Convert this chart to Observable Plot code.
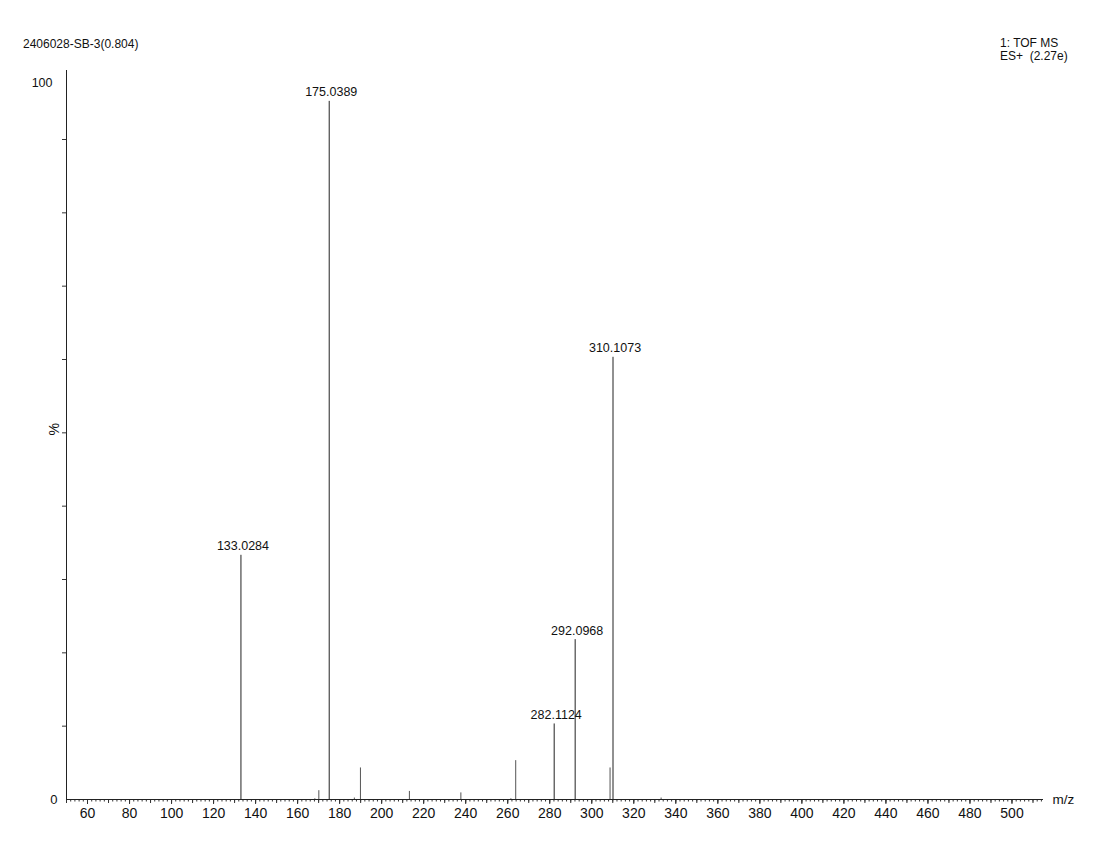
<!DOCTYPE html>
<html>
<head>
<meta charset="utf-8">
<script src="https://cdn.jsdelivr.net/npm/d3@7"></script>
<script src="https://cdn.jsdelivr.net/npm/@observablehq/plot@0.6"></script>
<style>
  body { margin: 0; background: #fff; font-family: "Liberation Sans", Arial, sans-serif; }
  #wrap { position: relative; width: 1114px; height: 855px; }
  .hdr { position: absolute; font-size: 12px; color: #111; line-height: 13px; white-space: nowrap; }
</style>
</head>
<body>
<div id="wrap">
  <div class="hdr" style="left:23px; top:38px;">2406028-SB-3(0.804)</div>
  <div class="hdr" style="left:1000px; top:37px;">1: TOF MS<br>ES+&nbsp; (2.27e)</div>
  <div id="chart" style="position:absolute; left:0; top:0;"></div>
</div>
<script>
// Labelled peaks
const peakMz = [133.0284, 175.0389, 282.1124, 292.0968, 310.1073];
const peakPct = [33.3, 95.2, 10.3, 21.8, 60.3];
const peakLabels = ["133.0284", "175.0389", "282.1124", "292.0968", "310.1073"];
// Minor peaks (unlabelled)
const minorMz = [168.2, 170.1, 187.0, 189.9, 213.2, 237.7, 261.5, 263.8, 308.7, 333.0];
const minorPct = [0.1, 1.2, 0.2, 4.3, 1.1, 0.9, 0.1, 5.3, 4.3, 0.2];
// Axis ticks
const xLabelTicks = d3.range(60, 501, 20);
const xMidTicks = d3.range(50, 515, 10);
const xMinorTicks = d3.range(50, 515, 2);
const yTicks = d3.range(10, 91, 10);

const peaks = peakMz.map((m, i) => ({mz: m, pct: peakPct[i], label: peakLabels[i]}));
const minor = minorMz.map((m, i) => ({mz: m, pct: minorPct[i]}));

const chart = Plot.plot({
  width: 1114,
  height: 855,
  marginTop: 70,
  marginBottom: 56,
  marginLeft: 66,
  marginRight: 71,
  style: {fontFamily: "Liberation Sans, Arial, sans-serif", fontSize: "12px", color: "#111", background: "transparent"},
  x: {domain: [50, 515], label: null},
  y: {domain: [0, 99.41], label: null},
  marks: [
    Plot.axisX({ticks: xMinorTicks, tickSize: 2.5, tickFormat: () => "", label: null, stroke: "#333"}),
    Plot.axisX({ticks: xMidTicks, tickSize: 4, tickFormat: () => "", label: null, stroke: "#333"}),
    Plot.axisX({ticks: xLabelTicks, tickSize: 5, tickPadding: 4, fontSize: 14, label: null, stroke: "#333"}),
    Plot.axisY({ticks: yTicks, tickSize: 4, tickFormat: () => "", label: null, stroke: "#333"}),
    Plot.text(["0"], {x: 50, y: 0, dx: -9, textAnchor: "end", fontSize: 13}),
    Plot.text(["100"], {x: 50, y: 99.41, dx: -14, dy: 12, textAnchor: "end", fontSize: 12.5}),
    Plot.ruleX(minor, {x: "mz", y1: 0, y2: "pct", stroke: "#555", strokeWidth: 1}),
    Plot.ruleX(peaks, {x: "mz", y1: 0, y2: "pct", stroke: "#222", strokeWidth: 1}),
    Plot.text(peaks, {x: "mz", y: "pct", text: "label", dy: -9, dx: 2, fontSize: 12.5, fill: "#111"}),
    Plot.ruleX([50], {y1: 0, y2: 99.41, stroke: "#222"}),
    Plot.ruleY([0], {x1: 50, x2: 515, stroke: "#222"}),
    Plot.text(["%"], {x: 50, y: 50.5, dx: -12, rotate: -90, fontSize: 14}),
    Plot.text(["m/z"], {x: 515, y: 0, dx: 9, textAnchor: "start", fontSize: 13.5})
  ]
});
document.getElementById("chart").appendChild(chart);
</script>
</body>
</html>
